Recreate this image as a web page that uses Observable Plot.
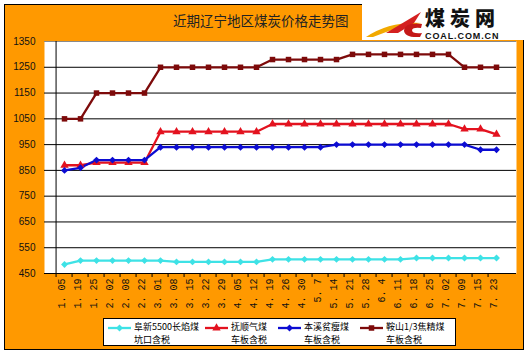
<!DOCTYPE html>
<html>
<head>
<meta charset="utf-8">
<script src="https://cdn.jsdelivr.net/npm/d3@7"></script>
<script src="https://cdn.jsdelivr.net/npm/@observablehq/plot@0.6"></script>
<style>
html,body{margin:0;padding:0;background:#fff;}
#wrap{position:relative;width:528px;height:353px;overflow:hidden;font-family:"Noto Sans CJK SC","Noto Sans",sans-serif;}
#bg{position:absolute;left:4px;top:4px;width:520px;height:346px;box-sizing:border-box;border:1px solid #000;background:#ff9900;}
#chart{position:absolute;left:0;top:0;}
#title{position:absolute;left:173px;top:11px;font-size:13.5px;line-height:18px;color:#222;white-space:nowrap;}
#logo{position:absolute;left:362px;top:0;width:166px;height:40px;background:#fff;}
#legend{position:absolute;left:103px;top:318px;width:353px;height:28px;box-sizing:border-box;border:1px solid #000;background:#fff;}
.li{position:absolute;top:0;height:26px;}
.li svg{position:absolute;left:0;top:3px;}
.lt{position:absolute;top:1px;font-size:9px;line-height:13px;color:#000;white-space:nowrap;}
</style>
</head>
<body>
<div id="wrap">
  <div id="bg"></div>
  <div id="chart"></div>
  <div id="title"></div>
  <div id="logo">
    <svg width="166" height="40">
      <path d="M4 37 Q28 21 60 23 Q38 26 11 37 Z" fill="#f2a900"/>
      <path d="M59 12 L24 33 L36 33 L52 23 Z" fill="#d42020"/>
      <path d="M60 24 Q44 22 42 30 Q42 38 58 37 L60 33 Q50 34 50 30 Q51 27 59 28 Z" fill="#c41818"/>
      <text x="63" y="26" font-family="Noto Sans CJK SC" font-weight="900" font-size="20" letter-spacing="5" fill="#111">煤炭网</text>
      <text x="63" y="38.5" font-family="Liberation Sans" font-weight="bold" font-size="9" letter-spacing="0.9" fill="#111">COAL.COM.CN</text>
    </svg>
  </div>
  <div id="legend"></div>
</div>
<script>
// ---- data ----
const dates = ["1. 05","1. 19","1. 25","2. 02","2. 08","2. 22","3. 01","3. 08","3. 15","3. 22","3. 29","4. 05","4. 12","4. 19","4. 26","4. 30","5. 7","5. 14","5. 21","5. 28","6. 4","6. 11","6. 18","6. 25","7. 02","7. 09","7. 15","7. 23"];
const fuxin  = [485,500,500,500,500,500,500,495,495,495,495,495,495,505,505,505,505,505,505,505,505,505,510,510,510,510,510,510];
const fushun = [870,870,880,880,880,880,1000,1000,1000,1000,1000,1000,1000,1030,1030,1030,1030,1030,1030,1030,1030,1030,1030,1030,1030,1010,1010,990];
const benxi  = [850,860,890,890,890,890,940,940,940,940,940,940,940,940,940,940,940,950,950,950,950,950,950,950,950,950,930,930];
const anshan = [1050,1050,1150,1150,1150,1150,1250,1250,1250,1250,1250,1250,1250,1280,1280,1280,1280,1280,1300,1300,1300,1300,1300,1300,1300,1250,1250,1250];
const seriesNames = ["阜新5500长焰煤","抚顺气煤","本溪贫瘦煤","鞍山1/3焦精煤"];
const seriesSub = ["坑口含税","车板含税","车板含税","车板含税"];
const seriesColors = ["#3ee2e6","#e3121f","#0c0cd2","#7d0a0a"];
const seriesSymbols = ["diamond2","triangle","diamond2","square"];
const yTicks = [450,550,650,750,850,950,1050,1150,1250,1350];
const titleText = "近期辽宁地区煤炭价格走势图";

// ---- build ----
const seriesValues = [fuxin, fushun, benxi, anshan];
const rows = seriesValues.flatMap((vals, s) => vals.map((v, i) => ({date: dates[i], value: v, series: seriesNames[s]})));

const W = 528, H = 353, mL = 44, mR = 12, mT = 41, mB = 80;
const bw = (W - mL - mR) / dates.length;
const R = 3.1;

const chart = Plot.plot({
  width: W, height: H,
  marginLeft: mL, marginRight: mR, marginTop: mT, marginBottom: mB,
  style: {background: "transparent", fontFamily: "Liberation Sans, sans-serif", fontSize: "10px", color: "#000", overflow: "visible"},
  x: {type: "band", domain: dates, padding: 0, axis: null},
  y: {domain: [450, 1350], axis: null},
  color: {domain: seriesNames, range: seriesColors},
  symbol: {domain: seriesNames, range: seriesSymbols},
  marks: [
    Plot.frame({fill: "white", stroke: "none"}),
    Plot.ruleY(yTicks.slice(0, -1), {stroke: "#000", strokeWidth: 1}),
    Plot.ruleY([yTicks[yTicks.length - 1]], {stroke: "#8a8a8a", strokeWidth: 1}),
    Plot.ruleX([dates[0]], {x: d => d, dx: -bw / 2, stroke: "#000"}),
    Plot.ruleX(dates, {x: d => d, y1: yTicks[0], y2: yTicks[0], insetBottom: -4, dx: -bw / 2, stroke: "#000"}),
    Plot.text(yTicks, {y: d => d, text: d => String(d), frameAnchor: "left", textAnchor: "end", dx: -9, fontFamily: "Liberation Sans", fontSize: 10, fill: "#111"}),
    Plot.text(dates, {x: d => d, text: d => d, frameAnchor: "bottom", rotate: -90, textAnchor: "end", dy: 5, fontFamily: "Liberation Mono", fontSize: 10, fill: "#111"}),
    Plot.line(rows, {x: "date", y: "value", z: "series", stroke: "series", strokeWidth: 2.3}),
    Plot.dot(rows, {x: "date", y: "value", symbol: "series", fill: "series", stroke: "none", r: R})
  ]
});
document.getElementById("chart").appendChild(chart);
document.getElementById("title").textContent = titleText;

// ---- legend ----
const legendLeft = [4, 101, 174, 256];
const leg = d3.select("#legend");
const symMap = {diamond2: d3.symbolDiamond2, triangle: d3.symbolTriangle, square: d3.symbolSquare};
seriesNames.forEach((name, i) => {
  const item = leg.append("div").attr("class", "li").style("left", legendLeft[i] + "px");
  const svg = item.append("svg").attr("width", 24).attr("height", 12);
  svg.append("line").attr("x1", 0).attr("x2", 23).attr("y1", 6).attr("y2", 6)
    .attr("stroke", seriesColors[i]).attr("stroke-width", 2.3);
  svg.append("path").attr("transform", "translate(11.5,6)")
    .attr("d", d3.symbol(symMap[seriesSymbols[i]], Math.PI * R * R)())
    .attr("fill", seriesColors[i]);
  const t = item.append("div").attr("class", "lt").style("left", "26px");
  t.append("div").text(name);
  t.append("div").text(seriesSub[i]);
});
</script>
</body>
</html>
